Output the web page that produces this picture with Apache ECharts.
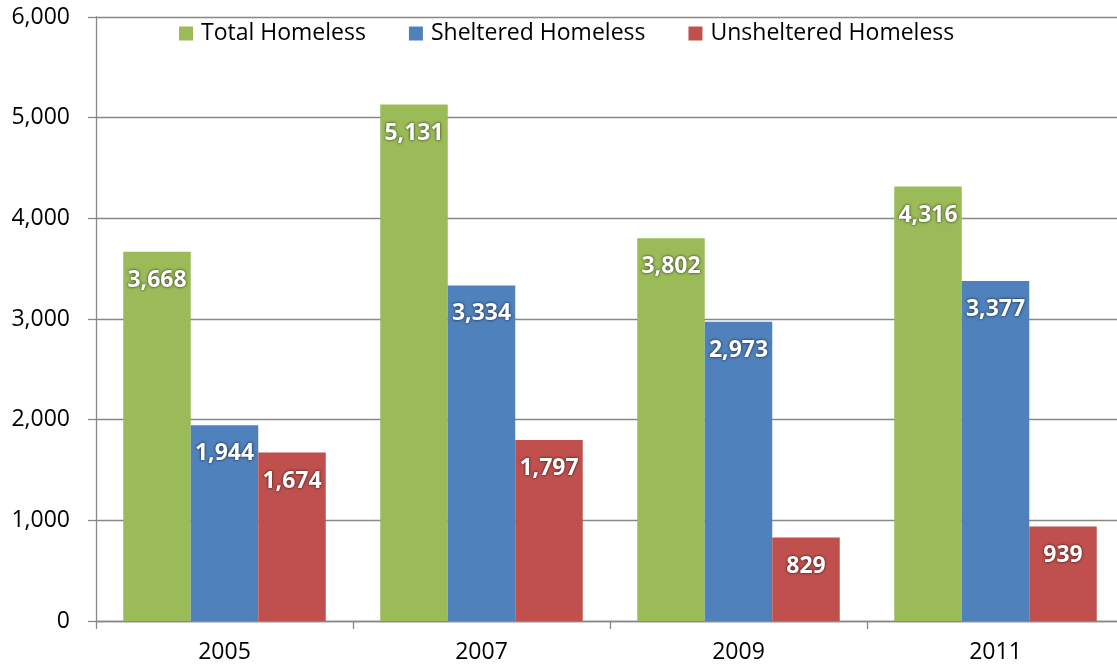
<!DOCTYPE html>
<html>
<head>
<meta charset="utf-8">
<script src="https://cdn.jsdelivr.net/npm/echarts@6/dist/echarts.min.js"></script>
<style>
  html, body { margin: 0; padding: 0; background: #fff; }
  #chart { width: 1117px; height: 670px; }
</style>
</head>
<body>
<div id="chart"></div>
<script>
// Homeless counts by survey year
const years = ['2005', '2007', '2009', '2011'];
const totalHomeless = [3668, 5131, 3802, 4316];
const shelteredHomeless = [1944, 3334, 2973, 3377];
const unshelteredHomeless = [1674, 1797, 829, 939];
const seriesNames = ['Total Homeless', 'Sheltered Homeless', 'Unsheltered Homeless'];
const colors = ['#9BBB59', '#4F81BD', '#C0504D'];

const FONT = '"Open Sans", sans-serif';

function barSeries(name, data, color) {
  return {
    name: name,
    type: 'bar',
    data: data,
    barWidth: 67.5,
    barGap: '0%',
    itemStyle: { color: color },
    label: {
      show: true,
      position: 'insideTop',
      distance: 17,
      color: '#fff',
      fontFamily: FONT,
      fontWeight: 'bold',
      fontSize: 23,
      textShadowColor: 'rgba(0,0,0,0.8)',
      textShadowBlur: 3,
      textShadowOffsetX: 0,
      textShadowOffsetY: 0,
      formatter: p => p.value.toLocaleString('en-US')
    }
  };
}

const chart = echarts.init(document.getElementById('chart'), null, { renderer: 'canvas' });
chart.setOption({
  animation: false,
  color: colors,
  textStyle: { fontFamily: FONT },
  legend: {
    top: 22,
    left: 179,
    padding: 0,
    itemWidth: 14,
    itemHeight: 14,
    itemGap: 43,
    icon: 'rect',
    textStyle: { fontSize: 23, color: '#000', fontFamily: FONT, padding: [0, 0, 0, 3] },
    data: seriesNames
  },
  // the plot area runs slightly past the right edge of the canvas
  grid: { left: 96, width: 1028, top: 17, bottom: 49, containLabel: false, outerBoundsMode: 'none' },
  xAxis: {
    type: 'category',
    data: years,
    axisLine: { lineStyle: { color: '#888', width: 1.3 } },
    axisTick: { show: true, length: 8, lineStyle: { color: '#888', width: 1.3 } },
    axisLabel: { color: '#000', fontSize: 23, margin: 20, fontFamily: FONT }
  },
  yAxis: {
    type: 'value',
    min: 0,
    max: 6000,
    interval: 1000,
    axisLine: { show: true, lineStyle: { color: '#888', width: 1.3 } },
    axisTick: { show: true, length: 8, lineStyle: { color: '#888', width: 1.3 } },
    splitLine: { lineStyle: { color: '#888', width: 1.3 } },
    axisLabel: {
      color: '#000',
      fontSize: 23,
      margin: 26,
      fontFamily: FONT,
      formatter: v => v.toLocaleString('en-US')
    }
  },
  series: [
    barSeries(seriesNames[0], totalHomeless, colors[0]),
    barSeries(seriesNames[1], shelteredHomeless, colors[1]),
    barSeries(seriesNames[2], unshelteredHomeless, colors[2])
  ]
});
</script>
</body>
</html>
